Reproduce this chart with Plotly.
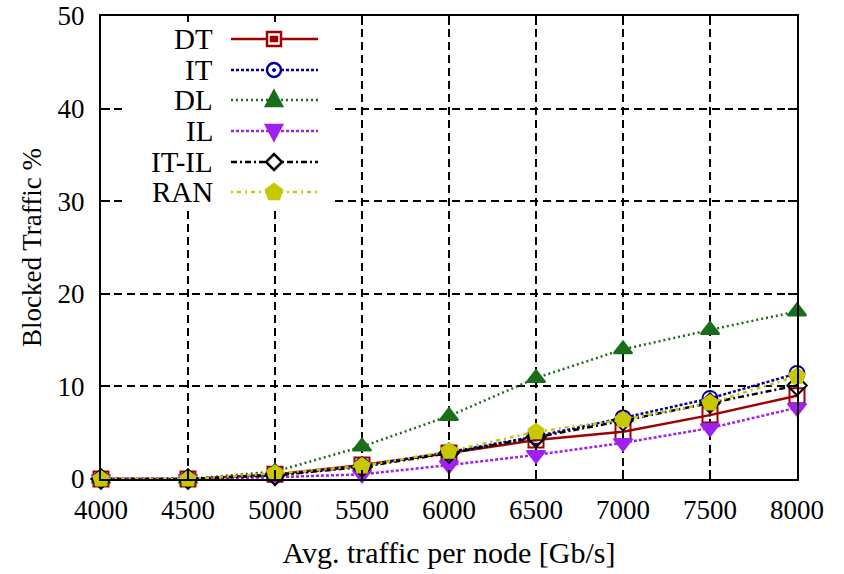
import plotly.graph_objects as go

traffic = [4000, 4500, 5000, 5500, 6000, 6500, 7000, 7500, 8000]
dt = [0.0, 0.0, 0.5, 1.5, 2.8, 4.2, 5.1, 6.9, 9.0]
it = [0.0, 0.0, 0.4, 1.4, 2.9, 4.6, 6.6, 8.7, 11.4]
dl = [0.0, 0.0, 0.8, 3.5, 6.8, 10.9, 14.0, 16.1, 18.1]
il = [0.0, 0.0, 0.2, 0.5, 1.5, 2.6, 3.9, 5.5, 7.7]
it_il = [0.0, 0.0, 0.4, 1.3, 2.8, 4.5, 6.3, 8.2, 10.1]
ran = [0.0, 0.0, 0.6, 1.4, 3.0, 5.1, 6.4, 8.2, 11.1]

series_names = ["DT", "IT", "DL", "IL", "IT-IL", "RAN"]
series_values = [dt, it, dl, il, it_il, ran]
x_ticks = [4000, 4500, 5000, 5500, 6000, 6500, 7000, 7500, 8000]
y_ticks = [0, 10, 20, 30, 40, 50]

colors = ["#a00000", "#0000a0", "#1a6e1a", "#a020f0", "#000000", "#c8c800"]
dashes = ["solid", "3px,2px", "2px,3px", "3px,2px", "6px,3px,2px,3px", "2px,4px,4px,4px"]
symbols = ["square-open-dot", "circle-open-dot", "triangle-up", "triangle-down",
           "diamond-open-dot", "pentagon"]
sizes = [15, 15, 16, 16, 15, 16]

W, H = 844, 574
L, R, T, B = 101, 47, 16, 95
pw, ph = W - L - R, H - T - B
FONT = "Liberation Serif"

fig = go.Figure()
for name, vals, c, d, s, sz in zip(series_names, series_values, colors, dashes, symbols, sizes):
    fig.add_trace(go.Scatter(
        x=traffic, y=vals, name=name, mode="lines+markers",
        line=dict(color=c, width=2.5, dash=d),
        marker=dict(symbol=s, size=sz, color=c, line=dict(color=c, width=2)),
        showlegend=False, cliponaxis=False,
    ))

def px_x(px):
    return (px - L) / pw

def px_y(py):
    return (H - B - py) / ph

shapes = []
annotations = []
# legend white box
shapes.append(dict(type="rect", xref="paper", yref="paper",
                   x0=px_x(122), x1=px_x(335), y0=px_y(206), y1=px_y(22),
                   fillcolor="white", line=dict(width=0), layer="above"))
row_y = [39, 70, 100, 131, 162, 192]
marker_paths = {
    "DT": ("M-7,-7 L7,-7 L7,7 L-7,7 Z M-3,-2 L3,-2 L3,2 L-3,2 Z", False),
    "IT": (None, False),
    "DL": ("M0,9 L8,-6 L-8,-6 Z", True),
    "IL": ("M0,-9 L8,6 L-8,6 Z", True),
    "IT-IL": ("M0,-8 L8,0 L0,8 L-8,0 Z", False),
    "RAN": ("M0,8 L8,2 L5,-7 L-5,-7 L-8,2 Z", True),
}
for name, c, d, yy in zip(series_names, colors, dashes, row_y):
    annotations.append(dict(xref="paper", yref="paper", x=px_x(215), y=px_y(yy),
                            text=name, showarrow=False, xanchor="right", yanchor="middle",
                            font=dict(family=FONT, size=29, color="black")))
    shapes.append(dict(type="line", xref="paper", yref="paper",
                       x0=px_x(231), x1=px_x(318), y0=px_y(yy), y1=px_y(yy),
                       line=dict(color=c, width=2.5, dash=d), layer="above"))
    path, filled = marker_paths[name]
    if path is None:
        shapes.append(dict(type="circle", xref="paper", yref="paper",
                           xsizemode="pixel", ysizemode="pixel",
                           xanchor=px_x(274), yanchor=px_y(yy),
                           x0=-7, x1=7, y0=-7, y1=7,
                           fillcolor="white", line=dict(color=c, width=2.5), layer="above"))
        shapes.append(dict(type="circle", xref="paper", yref="paper",
                           xsizemode="pixel", ysizemode="pixel",
                           xanchor=px_x(274), yanchor=px_y(yy),
                           x0=-1.5, x1=1.5, y0=-1.5, y1=1.5,
                           fillcolor=c, line=dict(color=c, width=1), layer="above"))
    else:
        shapes.append(dict(type="path", xref="paper", yref="paper",
                           xsizemode="pixel", ysizemode="pixel",
                           xanchor=px_x(274), yanchor=px_y(yy),
                           path=path, fillcolor=c if filled else "white",
                           line=dict(color=c, width=2.5), layer="above"))

axis_common = dict(
    showline=True, linecolor="black", linewidth=2, mirror="ticks",
    ticks="inside", ticklen=9, tickwidth=1.5, tickcolor="black",
    showgrid=True, gridcolor="black", gridwidth=1.5, griddash="8px,5px",
    zeroline=False, automargin=False,
    tickfont=dict(family=FONT, size=27, color="black"),
)

fig.update_layout(
    width=W, height=H,
    margin=dict(l=L, r=R, t=T, b=B, pad=0),
    paper_bgcolor="white", plot_bgcolor="white",
    shapes=shapes, annotations=annotations,
    xaxis=dict(range=[4000, 8000], tickvals=x_ticks, ticklabelstandoff=6,
               title=dict(text="Avg. traffic per node [Gb/s]", standoff=18,
                          font=dict(family=FONT, size=30, color="black")),
               **axis_common),
    yaxis=dict(range=[0, 50], tickvals=y_ticks, ticklabelstandoff=9,
               title=dict(text="Blocked Traffic %", standoff=8,
                          font=dict(family=FONT, size=27, color="black")),
               **axis_common),
)

# remove the default 8px page margin so the figure fills the window exactly
fig.write_html("out.html", config={"displayModeBar": False},
               post_script="document.body.style.margin='0';")
